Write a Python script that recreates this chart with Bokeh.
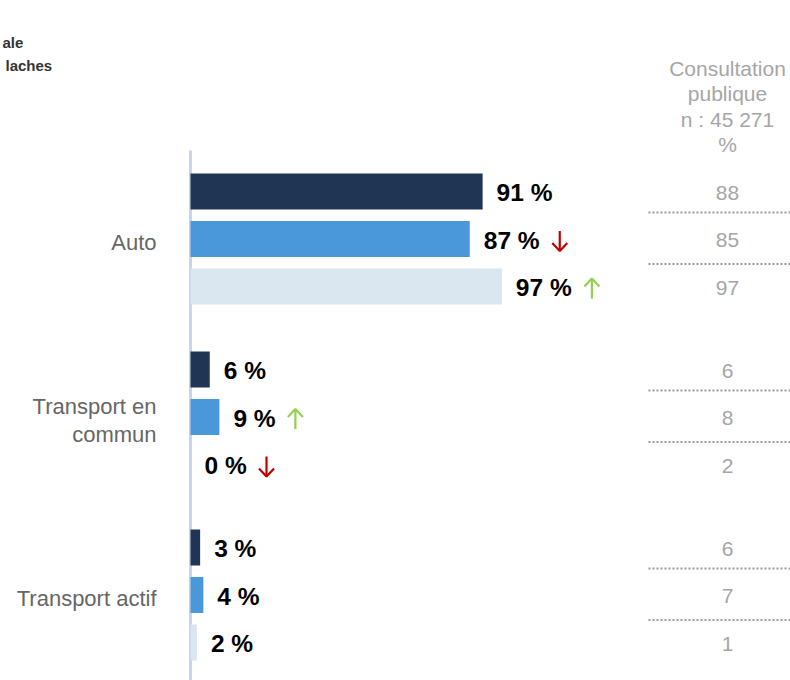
from bokeh.plotting import figure
from bokeh.models import Range1d, ColumnDataSource
from bokeh.core.properties import value
from bokeh.embed import file_html
from bokeh.resources import INLINE

categories = ["Auto", "Transport en\ncommun", "Transport actif"]
series_a = [91, 6, 3]      # dark navy
series_b = [87, 9, 4]      # medium blue
series_c = [97, 0, 2]      # light
arrows_b = ["down", "up", ""]
arrows_c = ["up", "down", ""]
consult_a = [88, 6, 6]
consult_b = [85, 8, 7]
consult_c = [97, 2, 1]
consult_header = ["Consultation", "publique", "n : 45 271", "%"]
title_lines = ["ale", "laches"]

W, H = 790, 680
X0 = 190.0          # pixel of value 0
SCALE = 3.21        # pixels per percent


def px(x):
    return (x - X0) / SCALE


p = figure(width=W, height=H, output_backend="svg", toolbar_location=None,
           x_range=Range1d(px(0), px(W)), y_range=Range1d(H, 0),
           min_border=0, outline_line_color=None)
p.axis.visible = False
p.grid.visible = False
p.background_fill_color = "white"
p.border_fill_color = "white"

FONT = value("Liberation Sans")
colors = ["#203554", "#4a98d9", "#dae6f0"]
series = [series_a, series_b, series_c]
arrows = [[""] * 3, arrows_b, arrows_c]
consult = [consult_a, consult_b, consult_c]

G0, GSTEP, SSTEP = 191.0, 178.0, 47.5

# vertical axis line
p.segment(x0=[0], y0=[150], x1=[0], y1=[H], line_color="#c9d3ea", line_width=3)

for s in range(3):
    ys = [G0 + g * GSTEP + s * SSTEP for g in range(3)]
    vals = series[s]
    src = ColumnDataSource(dict(y=ys, v=vals,
                                lab=[f"{v} %" for v in vals]))
    p.hbar(y="y", left=0, right="v", height=36, source=src,
           fill_color=colors[s], line_color=None)
    p.text(x="v", y="y", text="lab", source=src, x_offset=14, y_offset=1,
           text_font=FONT, text_font_style="bold", text_font_size="24.5px",
           text_color="#000000", text_baseline="middle", text_align="left")
    # arrows
    for g in range(3):
        a = arrows[s][g]
        if not a:
            continue
        nd = len(str(vals[g]))
        cx = vals[g] + (62 + 14 * nd) / SCALE
        hw = 7.5 / SCALE
        yc = ys[g] + 2
        sign = 1 if a == "down" else -1
        tip = yc + sign * 10
        tail = yc - sign * 10
        col = "#c00000" if a == "down" else "#92d050"
        p.multi_line(xs=[[cx, cx], [cx - hw, cx, cx + hw]],
                     ys=[[tail, tip], [tip - sign * 8, tip, tip - sign * 8]],
                     line_color=col, line_width=2.2)
    # consultation values
    p.text(x=[px(727)] * 3, y=[y + 1 for y in ys],
           text=[str(v) for v in consult[s]],
           text_font=FONT, text_font_size="21px", text_color="#a6a6a6",
           text_baseline="middle", text_align="center")

# dotted separators
for g in range(3):
    for k, dy in enumerate([21, 25]):
        yy = G0 + g * GSTEP + k * SSTEP + dy
        p.segment(x0=[px(648)], y0=[yy], x1=[px(790)], y1=[yy],
                  line_color="#9a9a9a", line_width=2, line_dash="2 2")

# category labels
for g, c in enumerate(categories):
    lines = c.split("\n")
    yc = G0 + g * GSTEP + SSTEP + 3
    n = len(lines)
    for i, ln in enumerate(lines):
        yy = yc + (i - (n - 1) / 2) * 28
        p.text(x=[px(156)], y=[yy], text=[ln], text_font=FONT,
               text_font_size="22px", text_color="#666666",
               text_baseline="middle", text_align="right")

# header of consultation column
for i, t in enumerate(consult_header):
    p.text(x=[px(727)], y=[68 + i * 25.3], text=[t], text_font=FONT,
           text_font_size="21px", text_color="#a6a6a6",
           text_baseline="middle", text_align="center")

# title at top left (only the visible ends in the reference)
for i, t in enumerate(title_lines):
    p.text(x=[px([2, 5][i])], y=[42 + i * 23], text=[t], text_font=FONT,
           text_font_size="15px", text_font_style="bold", text_color="#333333",
           text_baseline="middle", text_align="left")

open("out.html", "w").write(file_html(p, INLINE))
